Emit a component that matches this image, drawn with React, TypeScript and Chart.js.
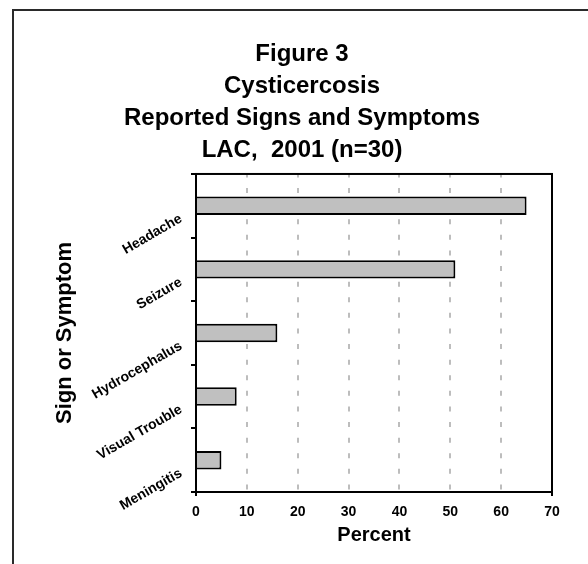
import React, { useEffect, useRef } from "react";
import { Chart, registerables } from "chart.js";

Chart.register(...registerables);

const titleLines = ["Figure 3", "Cysticercosis", "Reported Signs and Symptoms", "LAC,  2001 (n=30)"];
const categories = ["Headache", "Seizure", "Hydrocephalus", "Visual Trouble", "Meningitis"];
const percents = [65, 51, 16, 8, 5];
const xTicks = [0, 10, 20, 30, 40, 50, 60, 70];
const xTitle = "Percent";
const yTitle = "Sign or Symptom";

const FONT = "'Liberation Sans', Arial, Helvetica, sans-serif";

const framePlugin = {
  id: "framePlugin",
  beforeDraw(chart: any) {
    const ctx = chart.ctx;
    ctx.save();
    ctx.fillStyle = "#ffffff";
    ctx.fillRect(0, 0, chart.width, chart.height);
    ctx.strokeStyle = "#2a2a2a";
    ctx.lineWidth = 2;
    ctx.beginPath();
    ctx.moveTo(13, chart.height);
    ctx.lineTo(13, 10);
    ctx.lineTo(chart.width, 10);
    ctx.stroke();
    ctx.restore();
  },
  afterDraw(chart: any) {
    const ctx = chart.ctx;
    const a = chart.chartArea;
    ctx.save();
    ctx.strokeStyle = "#000000";
    ctx.lineWidth = 2;
    ctx.strokeRect(a.left, a.top, a.right - a.left, a.bottom - a.top);
    // small ticks below the axis at both ends
    ctx.beginPath();
    ctx.moveTo(a.left, a.bottom);
    ctx.lineTo(a.left, a.bottom + 4);
    ctx.moveTo(a.right, a.bottom);
    ctx.lineTo(a.right, a.bottom + 4);
    ctx.stroke();
    // rotated category labels
    const ys = chart.scales.y;
    ctx.fillStyle = "#000000";
    ctx.font = `bold 14px ${FONT}`;
    ctx.textAlign = "right";
    ctx.textBaseline = "middle";
    categories.forEach((c, i) => {
      const y = ys.getPixelForValue(i);
      ctx.save();
      ctx.translate(a.left - 15, y + 12);
      ctx.rotate(-Math.PI / 6);
      ctx.fillText(c, 0, 0);
      ctx.restore();
    });
    ctx.restore();
  },
};

export default function App() {
  const ref = useRef<HTMLCanvasElement | null>(null);
  useEffect(() => {
    if (!ref.current) return;
    const chart = new Chart(ref.current, {
      type: "bar",
      data: {
        labels: categories,
        datasets: [
          {
            data: percents,
            backgroundColor: "#c0c0c0",
            borderColor: "#000000",
            borderWidth: 2,
            borderSkipped: "start",
            categoryPercentage: 1,
            barPercentage: 0.29,
          },
        ],
      },
      options: {
        indexAxis: "y",
        animation: false,
        responsive: false,
        devicePixelRatio: 1,
        layout: { padding: { top: 38, left: 52, right: 36, bottom: 0 } },
        plugins: {
          legend: { display: false },
          tooltip: { enabled: false },
          title: {
            display: true,
            text: titleLines,
            color: "#000000",
            font: { family: FONT, size: 24, weight: "bold", lineHeight: 1.333 },
            padding: { top: 0, bottom: 8 },
          },
        },
        scales: {
          x: {
            type: "linear",
            min: 0,
            max: 70,
            afterBuildTicks: (s: any) => {
              s.ticks = xTicks.map((v) => ({ value: v }));
            },
            afterFit: (s: any) => {
              s.height = 72;
            },
            ticks: {
              color: "#000000",
              font: { family: FONT, size: 14, weight: "bold" },
              padding: 12,
              maxRotation: 0,
            },
            grid: {
              drawTicks: false,
              color: (c: any) => (c.tick && (c.tick.value === 0 || c.tick.value === 70) ? "rgba(0,0,0,0)" : "#bdbdbd"),
              lineWidth: 2,
            },
            border: { display: true, color: "#000000", width: 2, dash: [5, 10.6], dashOffset: 1.5 },
            title: {
              display: true,
              text: xTitle,
              color: "#000000",
              font: { family: FONT, size: 20, weight: "bold" },
              padding: { top: 0, bottom: 17 },
            },
          },
          y: {
            type: "category",
            afterFit: (s: any) => {
              s.width = 144;
            },
            ticks: { display: false },
            grid: {
              offset: true,
              drawOnChartArea: false,
              drawTicks: true,
              tickLength: 5,
              color: "#000000",
              lineWidth: 2,
            },
            border: { display: true, color: "#000000", width: 2 },
            title: {
              display: true,
              text: yTitle,
              color: "#000000",
              font: { family: FONT, size: 22, weight: "bold" },
              padding: { top: 0, bottom: 0 },
            },
          },
        },
      },
      plugins: [framePlugin],
    } as any);
    return () => chart.destroy();
  }, []);
  return (
    <div style={{ position: "absolute", left: 0, top: 0, width: 588, height: 564 }}>
      <canvas ref={ref} width={588} height={564} />
    </div>
  );
}
